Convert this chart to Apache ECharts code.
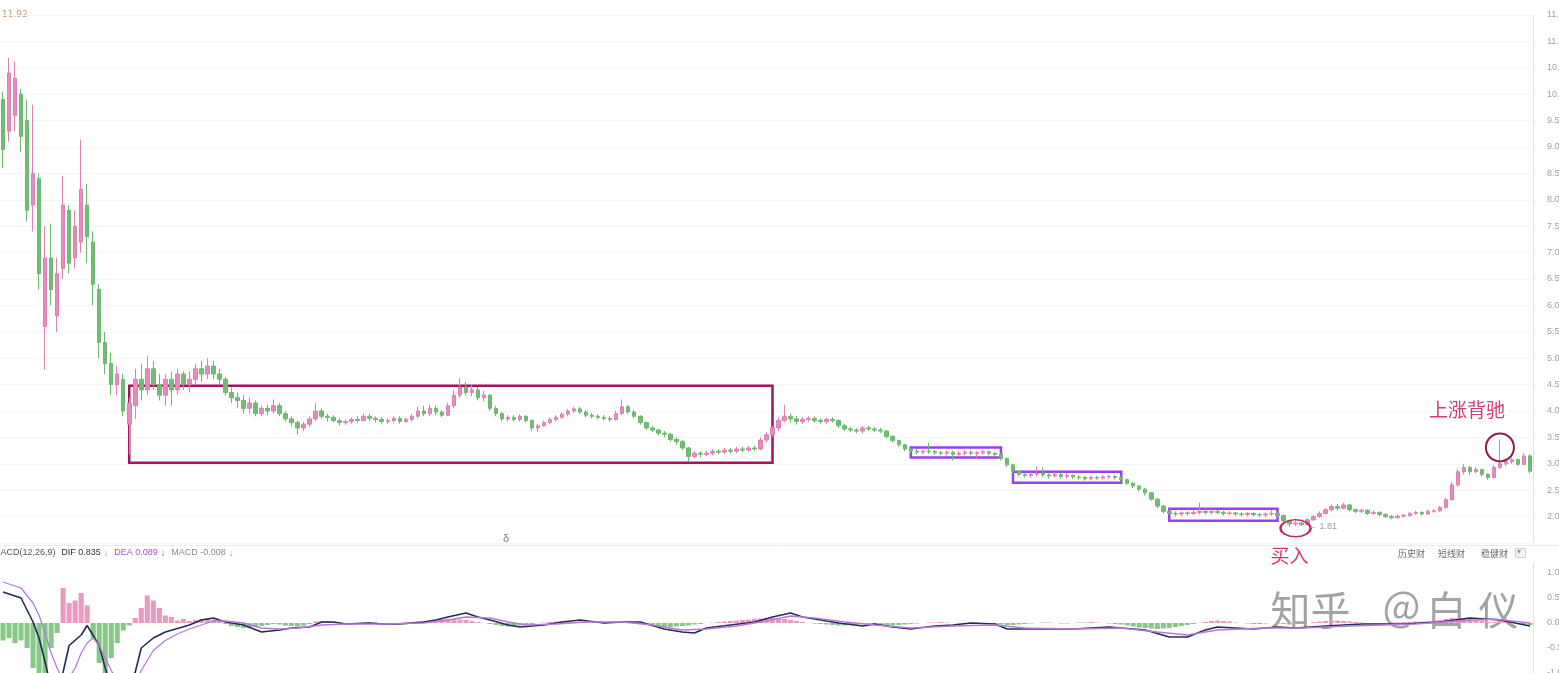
<!DOCTYPE html>
<html><head><meta charset="utf-8">
<script src="https://cdn.jsdelivr.net/npm/echarts/dist/echarts.min.js"></script>
<style>html,body{margin:0;padding:0;background:#fff;overflow:hidden}#c{width:1559px;height:673px}</style>
</head><body><div id="c"></div>
<script>
// [open, close, low, high]
const candles = [
[9.90,8.95,8.60,10.05],[9.30,10.40,9.10,10.69],[9.60,10.30,9.30,10.62],[10.00,9.20,8.90,10.10],[9.50,7.80,7.60,9.90],
[7.90,8.50,7.40,9.80],[8.40,6.60,6.30,8.50],[5.60,6.90,4.78,7.50],[6.90,6.30,6.00,7.55],[5.80,6.60,5.50,6.90],
[6.70,7.90,6.50,8.45],[7.80,6.80,6.60,7.90],[6.90,7.50,6.70,7.80],[7.20,8.20,7.00,9.14],[7.90,7.30,6.80,8.30],
[7.20,6.40,6.00,7.40],[6.30,5.30,5.00,6.40],[5.30,4.90,4.70,5.50],[4.90,4.50,4.30,5.10],[4.50,4.70,4.30,4.85],
[4.60,4.00,3.90,4.70],[3.75,4.15,3.17,4.25],[4.10,4.60,3.85,4.80],[4.60,4.40,4.20,4.90],[4.40,4.80,4.30,5.05],
[4.80,4.50,4.40,4.95],[4.50,4.30,4.20,4.70],[4.30,4.60,4.10,4.70],[4.60,4.40,4.10,4.75],[4.40,4.70,4.30,4.80],
[4.70,4.50,4.40,4.75],[4.50,4.60,4.35,4.75],[4.60,4.80,4.50,4.90],[4.80,4.70,4.55,4.95],[4.70,4.85,4.60,5.00],
[4.85,4.70,4.60,4.95],[4.70,4.60,4.50,4.80],[4.60,4.35,4.30,4.65],[4.35,4.25,4.15,4.45],[4.25,4.20,4.05,4.35],
[4.20,4.05,3.95,4.30],[4.05,4.15,3.95,4.25],[4.15,3.95,3.90,4.20],[3.95,4.05,3.90,4.10],[4.05,4.00,3.92,4.12],
[4.00,4.10,3.95,4.22],[4.10,3.95,3.90,4.15],[3.95,3.85,3.80,4.00],[3.85,3.78,3.72,3.90],[3.78,3.68,3.55,3.82],
[3.68,3.75,3.62,3.80],[3.75,3.85,3.70,3.90],[3.85,4.00,3.80,4.15],[4.00,3.90,3.85,4.05],[3.90,3.88,3.80,3.95],
[3.88,3.82,3.78,3.92],[3.82,3.78,3.72,3.86],[3.78,3.80,3.74,3.84],[3.80,3.84,3.76,3.88],[3.84,3.82,3.78,3.90],
[3.82,3.90,3.80,3.96],[3.90,3.86,3.80,3.95],[3.86,3.84,3.78,3.90],[3.84,3.80,3.76,3.88],[3.80,3.82,3.75,3.86],
[3.82,3.86,3.78,3.90],[3.86,3.80,3.76,3.90],[3.80,3.84,3.77,3.88],[3.84,3.90,3.80,3.95],[3.90,4.00,3.86,4.08],
[4.00,3.95,3.90,4.10],[3.95,4.05,3.90,4.12],[4.05,3.98,3.92,4.10],[3.98,3.92,3.88,4.02],[3.92,4.10,3.90,4.15],
[4.10,4.30,4.05,4.40],[4.30,4.45,4.25,4.62],[4.45,4.35,4.30,4.55],[4.35,4.40,4.28,4.50],[4.40,4.25,4.20,4.45],
[4.25,4.30,4.18,4.38],[4.30,4.05,4.00,4.32],[4.05,3.95,3.90,4.10],[3.95,3.85,3.80,3.98],[3.85,3.88,3.80,3.92],
[3.88,3.84,3.80,3.92],[3.84,3.90,3.80,3.94],[3.90,3.82,3.78,3.92],[3.82,3.68,3.62,3.84],[3.68,3.72,3.60,3.76],
[3.72,3.78,3.70,3.82],[3.78,3.84,3.75,3.88],[3.84,3.88,3.80,3.92],[3.88,3.94,3.85,3.98],[3.94,4.00,3.90,4.04],
[4.00,4.04,3.96,4.08],[4.04,3.98,3.94,4.08],[3.98,3.92,3.88,4.02],[3.92,3.90,3.86,3.96],[3.90,3.88,3.84,3.94],
[3.88,3.86,3.82,3.92],[3.86,3.84,3.80,3.90],[3.84,3.95,3.82,4.00],[3.95,4.08,3.92,4.22],[4.08,3.98,3.94,4.12],
[3.98,3.90,3.86,4.02],[3.90,3.78,3.74,3.92],[3.78,3.68,3.64,3.80],[3.68,3.64,3.60,3.72],[3.64,3.58,3.54,3.66],
[3.58,3.56,3.50,3.62],[3.56,3.46,3.42,3.58],[3.46,3.42,3.36,3.50],[3.42,3.30,3.26,3.45],[3.30,3.14,3.05,3.32],
[3.14,3.20,3.10,3.24],[3.20,3.18,3.12,3.24],[3.18,3.20,3.14,3.25],[3.20,3.24,3.16,3.28],[3.24,3.22,3.18,3.28],
[3.22,3.26,3.18,3.30],[3.26,3.24,3.20,3.30],[3.24,3.28,3.20,3.32],[3.28,3.26,3.22,3.32],[3.26,3.30,3.22,3.34],
[3.30,3.28,3.24,3.34],[3.28,3.45,3.26,3.50],[3.45,3.55,3.40,3.60],[3.55,3.68,3.50,3.72],[3.68,3.82,3.62,3.88],
[3.82,3.90,3.78,4.12],[3.90,3.85,3.78,3.95],[3.85,3.80,3.74,3.90],[3.80,3.84,3.76,3.88],[3.84,3.86,3.80,3.90],
[3.86,3.82,3.78,3.90],[3.82,3.80,3.76,3.86],[3.80,3.84,3.76,3.88],[3.84,3.82,3.78,3.88],[3.82,3.72,3.68,3.84],
[3.72,3.66,3.62,3.76],[3.66,3.64,3.60,3.70],[3.64,3.62,3.58,3.68],[3.62,3.68,3.58,3.72],[3.68,3.66,3.62,3.72],
[3.66,3.64,3.60,3.70],[3.64,3.62,3.58,3.68],[3.62,3.52,3.48,3.64],[3.52,3.44,3.40,3.54],[3.44,3.36,3.32,3.46],
[3.36,3.28,3.24,3.38],[3.28,3.24,3.20,3.30],[3.24,3.22,3.18,3.28],[3.22,3.24,3.18,3.27],[3.24,3.23,3.19,3.40],
[3.23,3.21,3.17,3.26],[3.21,3.20,3.16,3.24],[3.20,3.22,3.16,3.25],[3.22,3.18,3.06,3.25],[3.18,3.20,3.14,3.24],
[3.20,3.22,3.16,3.26],[3.22,3.20,3.16,3.25],[3.20,3.21,3.10,3.24],[3.21,3.23,3.17,3.26],[3.23,3.20,3.16,3.25],
[3.20,3.18,3.14,3.22],[3.18,3.10,3.06,3.20],[3.10,2.98,2.94,3.12],[2.98,2.86,2.82,3.00],[2.86,2.80,2.76,2.88],
[2.80,2.78,2.74,2.82],[2.78,2.80,2.74,2.84],[2.80,2.82,2.76,2.95],[2.82,2.79,2.75,2.93],[2.79,2.77,2.72,2.82],
[2.77,2.80,2.74,2.85],[2.80,2.76,2.72,2.84],[2.76,2.78,2.72,2.82],[2.78,2.75,2.71,2.80],[2.75,2.74,2.70,2.78],
[2.74,2.72,2.68,2.77],[2.72,2.74,2.69,2.77],[2.74,2.73,2.70,2.77],[2.73,2.75,2.70,2.78],[2.75,2.76,2.72,2.79],
[2.76,2.74,2.70,2.79],[2.74,2.70,2.66,2.76],[2.70,2.63,2.60,2.72],[2.63,2.58,2.54,2.66],[2.58,2.52,2.48,2.60],
[2.52,2.45,2.40,2.54],[2.45,2.33,2.30,2.47],[2.33,2.20,2.16,2.35],[2.20,2.10,2.06,2.22],[2.10,2.06,2.02,2.13],
[2.06,2.05,2.00,2.10],[2.05,2.07,2.01,2.10],[2.07,2.06,2.02,2.10],[2.06,2.08,2.02,2.12],[2.08,2.10,2.04,2.27],
[2.10,2.08,2.04,2.18],[2.08,2.10,2.04,2.14],[2.10,2.08,2.04,2.13],[2.08,2.06,2.02,2.11],[2.06,2.07,2.02,2.10],
[2.07,2.05,2.01,2.09],[2.05,2.04,2.00,2.08],[2.04,2.06,2.00,2.09],[2.06,2.04,2.00,2.08],[2.04,2.03,1.99,2.07],
[2.03,2.05,1.99,2.08],[2.05,2.06,2.01,2.12],[2.06,2.02,1.98,2.08],[2.02,1.92,1.88,2.04],[1.92,1.86,1.81,1.94],
[1.86,1.88,1.82,1.92],[1.88,1.85,1.82,1.90],[1.85,1.94,1.83,1.97],[1.94,2.00,1.92,2.03],[2.00,2.06,1.98,2.10],
[2.06,2.13,2.04,2.16],[2.13,2.19,2.10,2.23],[2.19,2.16,2.12,2.24],[2.16,2.22,2.14,2.26],[2.22,2.13,2.10,2.24],
[2.13,2.10,2.06,2.15],[2.10,2.12,2.07,2.15],[2.12,2.06,2.03,2.14],[2.06,2.08,2.03,2.11],[2.08,2.04,2.01,2.10],
[2.04,2.00,1.97,2.06],[2.00,1.98,1.95,2.03],[1.98,2.01,1.96,2.04],[2.01,2.02,1.98,2.05],[2.02,2.06,2.00,2.09],
[2.06,2.08,2.03,2.11],[2.08,2.05,2.02,2.10],[2.05,2.10,2.03,2.13],[2.10,2.11,2.07,2.14],[2.11,2.17,2.09,2.20],
[2.17,2.32,2.15,2.36],[2.32,2.60,2.30,2.65],[2.60,2.85,2.56,2.90],[2.85,2.93,2.80,3.00],[2.93,2.85,2.80,2.96],
[2.85,2.89,2.82,2.94],[2.89,2.80,2.76,2.91],[2.80,2.74,2.70,2.82],[2.74,2.93,2.72,2.98],[2.93,3.00,2.90,3.46],
[3.00,3.04,2.96,3.10],[3.04,3.08,3.00,3.12],[3.08,2.99,2.96,3.10],[2.99,3.15,2.97,3.20],[3.15,2.86,2.82,3.18]
];

const macdHist = [
-0.35,-0.3,-0.4,-0.35,-0.5,-0.9,-1.1,-1.0,-0.5,-0.2,
0.7,0.4,0.45,0.6,0.35,
-0.3,-0.8,-1.0,-0.7,-0.4,-0.15,-0.05,
0.1,0.3,0.55,0.45,0.3,0.15,0.12,0.05,0.08,0.04,0.06,0.08,0.1,0.07,0.04,
-0.02,-0.06,-0.08,-0.1,-0.1,-0.08,-0.06,-0.04,-0.02,-0.03,-0.05,-0.06,-0.07,-0.05,-0.02,
0.03,0.03,0.04,0.02,0.01,-0.01,-0.02,-0.01,0.01,0.02,0.01,-0.01,-0.02,-0.01,0.0,0.01,0.02,
0.03,0.04,0.05,0.06,0.07,0.08,0.08,0.07,0.06,0.04,0.02,0.0,
-0.02,-0.04,-0.06,-0.07,-0.06,-0.05,-0.03,-0.02,0.0,0.01,0.02,0.03,0.03,0.02,0.02,
0.03,0.02,0.01,0.0,-0.01,0.0,0.01,0.02,0.01,0.0,-0.02,-0.04,-0.05,
-0.06,-0.07,-0.08,-0.07,-0.06,-0.05,-0.03,-0.02,0.0,0.01,0.02,0.03,
0.04,0.05,0.06,0.07,0.08,0.09,0.1,0.1,0.09,0.08,0.06,0.04,0.02,0.0,-0.01,
-0.02,-0.03,-0.04,-0.05,-0.05,-0.04,-0.03,-0.02,-0.02,-0.03,-0.04,-0.05,-0.05,-0.04,-0.03,
-0.02,-0.01,0.0,0.01,0.01,0.02,0.01,0.0,-0.01,0.0,0.01,0.01,0.0,-0.01,-0.02,-0.03,-0.04,-0.04,-0.03,-0.02,
-0.01,0.0,0.01,0.01,0.0,-0.01,-0.01,0.0,0.01,0.01,0.02,0.01,0.0,-0.01,-0.02,-0.03,-0.05,-0.07,-0.09,-0.1,
-0.11,-0.12,-0.11,-0.1,-0.08,-0.06,-0.04,-0.02,0.0,0.02,0.04,0.05,0.04,0.03,0.01,0.0,-0.01,-0.02,-0.02,-0.01,
0.0,-0.01,-0.02,-0.03,-0.02,-0.01,0.0,0.02,0.03,0.04,0.05,0.05,0.04,0.03,0.02,0.01,0.0,-0.01,-0.01,0.0,
0.01,0.01,0.02,0.02,0.03,0.03,0.04,0.05,0.06,0.08,0.1,0.1,0.09,0.08,0.06,0.05,0.03,0.02,0.04,0.03,0.01,-0.01,-0.02,-0.04
];

// [candle index, value]
const difPts = [[0,0.62],[3,0.5],[5,0.02],[6,-0.3],[7,-0.78],[8,-1.3],[9,-1.5],[10,-0.98],[11,-0.45],[13,-0.24],[14,-0.05],[16,-0.45],[17,-0.9],[18,-1.3],[19,-1.5],[20,-1.4],[21,-1.2],[22,-0.98],[23,-0.5],[25,-0.3],[27,-0.18],[31,-0.04],[33,0.06],[35,0.1],[37,0.02],[40,-0.04],[43,-0.18],[46,-0.14],[48,-0.1],[51,-0.08],[53,0.02],[55,0.02],[57,-0.02],[61,0],[63,-0.02],[66,-0.02],[70,0.02],[72,0.06],[74,0.12],[77,0.2],[79,0.12],[81,0.06],[84,-0.04],[86,-0.08],[90,-0.04],[93,0.02],[96,0.06],[100,0],[103,0.02],[106,0.02],[110,-0.12],[113,-0.18],[115,-0.2],[117,-0.1],[121,-0.04],[125,0.02],[128,0.12],[131,0.2],[133,0.12],[136,0.06],[139,0],[143,-0.06],[145,-0.02],[148,-0.08],[151,-0.12],[155,-0.06],[158,-0.04],[161,0],[165,-0.02],[167,-0.12],[172,-0.12],[178,-0.12],[184,-0.08],[190,-0.14],[194,-0.28],[197,-0.28],[200,-0.14],[202,-0.08],[208,-0.12],[212,-0.08],[215,-0.1],[220,-0.06],[226,-0.02],[233,-0.02],[239,0.02],[244,0.1],[249,0.06],[254,-0.06]];
const deaPts = [[0,0.82],[3,0.7],[5,0.4],[6,0.15],[7,-0.2],[8,-0.6],[9,-0.9],[10,-1.15],[11,-1.1],[12,-0.9],[13,-0.6],[14,-0.4],[15,-0.3],[16,-0.45],[17,-0.7],[18,-0.95],[19,-1.15],[20,-1.3],[21,-1.3],[22,-1.2],[23,-0.95],[24,-0.75],[25,-0.55],[27,-0.35],[29,-0.22],[31,-0.12],[33,-0.04],[35,0.04],[37,0.04],[40,0.0],[43,-0.1],[46,-0.12],[49,-0.1],[53,-0.04],[57,-0.02],[63,-0.02],[70,0.0],[74,0.06],[77,0.12],[81,0.1],[84,0.02],[87,-0.04],[92,-0.02],[97,0.02],[103,0.02],[108,-0.04],[113,-0.14],[117,-0.12],[122,-0.06],[127,0.04],[131,0.14],[135,0.1],[140,0.02],[145,-0.04],[151,-0.1],[158,-0.06],[165,-0.04],[170,-0.1],[178,-0.12],[186,-0.1],[192,-0.18],[197,-0.24],[202,-0.14],[210,-0.1],[216,-0.1],[224,-0.06],[235,-0.02],[242,0.04],[248,0.08],[254,0.0]];

const categories = candles.map((_, i) => String(i));

// consolidation boxes: [startIndex, endIndex, upper, lower]
const bigBox = [[21, 128, 4.48, 3.02]];
const smallBoxes = [[151, 166, 3.31, 3.12], [168, 186, 2.85, 2.64], [194, 212, 2.15, 1.92]];
const buyPoint = [215, 1.78];
const peakPoint = [249, 3.31];

const chart = echarts.init(document.getElementById('c'), null, {renderer: 'canvas'});

const boxData = [];
bigBox.forEach(b => boxData.push([
  {xAxis: b[0], yAxis: b[2], itemStyle: {color: 'rgba(0,0,0,0)', borderColor: '#a3145d', borderWidth: 2.5}},
  {xAxis: b[1], yAxis: b[3]}
]));
smallBoxes.forEach(b => boxData.push([
  {xAxis: b[0], yAxis: b[2], itemStyle: {color: 'rgba(0,0,0,0)', borderColor: '#9a3ff0', borderWidth: 2.5}},
  {xAxis: b[1], yAxis: b[3]}
]));

const cjk = '"Noto Sans CJK SC", sans-serif';
const wm = {fill: 'rgba(140,140,140,0.8)', stroke: 'rgba(255,255,255,0.7)', lineWidth: 1.2, fontSize: 40, fontFamily: cjk};

chart.setOption({
  animation: false,
  backgroundColor: '#ffffff',
  grid: [
    {left: 0, right: 26, top: 15, height: 528, containLabel: false, outerBoundsMode: 'none'},
    {left: 0, right: 26, top: 563, height: 110, containLabel: false, outerBoundsMode: 'none'}
  ],
  xAxis: [
    {type: 'category', data: categories, gridIndex: 0, boundaryGap: true,
     axisLine: {show: false}, axisTick: {show: false}, axisLabel: {show: false}, splitLine: {show: false}},
    {type: 'category', data: categories, gridIndex: 1, boundaryGap: true,
     axisLine: {show: false}, axisTick: {show: false}, axisLabel: {show: false}, splitLine: {show: false}}
  ],
  yAxis: [
    {type: 'value', gridIndex: 0, position: 'right', min: 1.5, max: 11.5, interval: 0.5,
     axisLine: {show: true, lineStyle: {color: '#e4e4e4'}}, axisTick: {show: false},
     axisLabel: {color: '#a0a0a0', fontSize: 9, margin: 14, showMinLabel: false, formatter: v => v.toFixed(2)},
     splitLine: {show: true, lineStyle: {color: '#f6f6f6', width: 1}}},
    {type: 'value', gridIndex: 1, position: 'right', min: -1.0, max: 1.2, interval: 0.5,
     axisLine: {show: true, lineStyle: {color: '#e4e4e4'}}, axisTick: {show: false},
     axisLabel: {color: '#a0a0a0', fontSize: 9, margin: 14, showMaxLabel: false, formatter: v => v.toFixed(2)},
     splitLine: {show: false}}
  ],
  series: [
    {
      type: 'candlestick', xAxisIndex: 0, yAxisIndex: 0, data: candles, barWidth: 4,
      itemStyle: {color: '#e58cbc', color0: '#72bd74', borderColor: '#e07fb4', borderColor0: '#6cb86f', borderWidth: 1},
      markArea: {silent: true, data: boxData},
      markPoint: {
        silent: true, animation: false,
        data: [
          {type: 'min', valueDim: 'lowest', symbol: 'circle', symbolSize: 1,
           itemStyle: {color: 'rgba(0,0,0,0)'},
           label: {show: true, position: 'right', distance: 18, formatter: '← {c}', color: '#9a9a9a', fontSize: 9}},
          {coord: buyPoint, symbol: 'circle', symbolSize: [30, 17],
           itemStyle: {color: 'rgba(0,0,0,0)', borderColor: '#c8246a', borderWidth: 2},
           label: {show: true, position: 'bottom', distance: 9, offset: [-6, 0], formatter: '买入', color: '#d9366f', fontSize: 19, fontFamily: cjk}},
          {coord: peakPoint, symbol: 'circle', symbolSize: 28,
           itemStyle: {color: 'rgba(0,0,0,0)', borderColor: '#8c1d4f', borderWidth: 2},
           label: {show: true, position: 'top', distance: 5, offset: [-33, -8], formatter: '上涨背驰', color: '#d63a7c', fontSize: 19, fontFamily: cjk}}
        ]
      }
    },
    {
      type: 'bar', xAxisIndex: 1, yAxisIndex: 1, data: macdHist, barWidth: '85%',
      itemStyle: {color: p => p.value >= 0 ? '#e89abf' : '#86c986'}
    },
    {
      type: 'line', xAxisIndex: 1, yAxisIndex: 1, data: difPts, symbol: 'none',
      lineStyle: {color: '#262a55', width: 1.6}
    },
    {
      type: 'line', xAxisIndex: 1, yAxisIndex: 1, data: deaPts, symbol: 'none',
      lineStyle: {color: '#b77ad8', width: 1.3}
    }
  ],
  graphic: [
    {type: 'line', shape: {x1: 0, y1: 545.5, x2: 1559, y2: 545.5}, style: {stroke: '#ececec', lineWidth: 1}, silent: true},
    {type: 'text', left: 2, top: 10, style: {text: '11.92', fill: '#c49a78', fontSize: 9, fontFamily: 'DejaVu Sans'}},
    {type: 'text', left: -7, top: 548, style: {
      text: '{a|MACD(12,26,9)}  {b|DIF 0.835}{c| ↓}  {d|DEA 0.089}{e| ↓}  {f|MACD -0.008}{g| ↓}',
      fontSize: 9, fontFamily: 'DejaVu Sans',
      rich: {
        a: {fill: '#555', fontSize: 9}, b: {fill: '#333', fontSize: 9}, c: {fill: '#c9a030', fontSize: 10, fontWeight: 'bold'},
        d: {fill: '#b24fd4', fontSize: 9}, e: {fill: '#5a7fd0', fontSize: 10, fontWeight: 'bold'},
        f: {fill: '#8a8a8a', fontSize: 9}, g: {fill: '#c0a060', fontSize: 10, fontWeight: 'bold'}
      }}},
    {type: 'text', left: 503, top: 533, style: {text: 'δ', fill: '#8a7a9a', fontSize: 11}},
    {type: 'text', left: 1398, top: 549, style: {text: '历史财', fill: '#6a6a6a', fontSize: 9, fontFamily: cjk}},
    {type: 'text', left: 1438, top: 549, style: {text: '短线财', fill: '#6a6a6a', fontSize: 9, fontFamily: cjk}},
    {type: 'text', left: 1481, top: 549, style: {text: '稳健财', fill: '#6a6a6a', fontSize: 9, fontFamily: cjk}},
    {type: 'rect', shape: {x: 1515.5, y: 548.5, width: 10, height: 9}, style: {fill: '#f4f4f4', stroke: '#cfcfcf', lineWidth: 1}},
    {type: 'text', left: 1517, top: 548, style: {text: '▾', fill: '#999', fontSize: 8}},
    {type: 'text', left: 1270, top: 589, style: Object.assign({text: '知'}, wm)},
    {type: 'text', left: 1310, top: 589, style: Object.assign({text: '乎'}, wm)},
    {type: 'text', left: 1381, top: 589, style: Object.assign({text: '＠'}, wm)},
    {type: 'text', left: 1426, top: 589, style: Object.assign({text: '白'}, wm)},
    {type: 'text', left: 1478, top: 589, style: Object.assign({text: '仪'}, wm)}
  ]
});
</script>
</body></html>
